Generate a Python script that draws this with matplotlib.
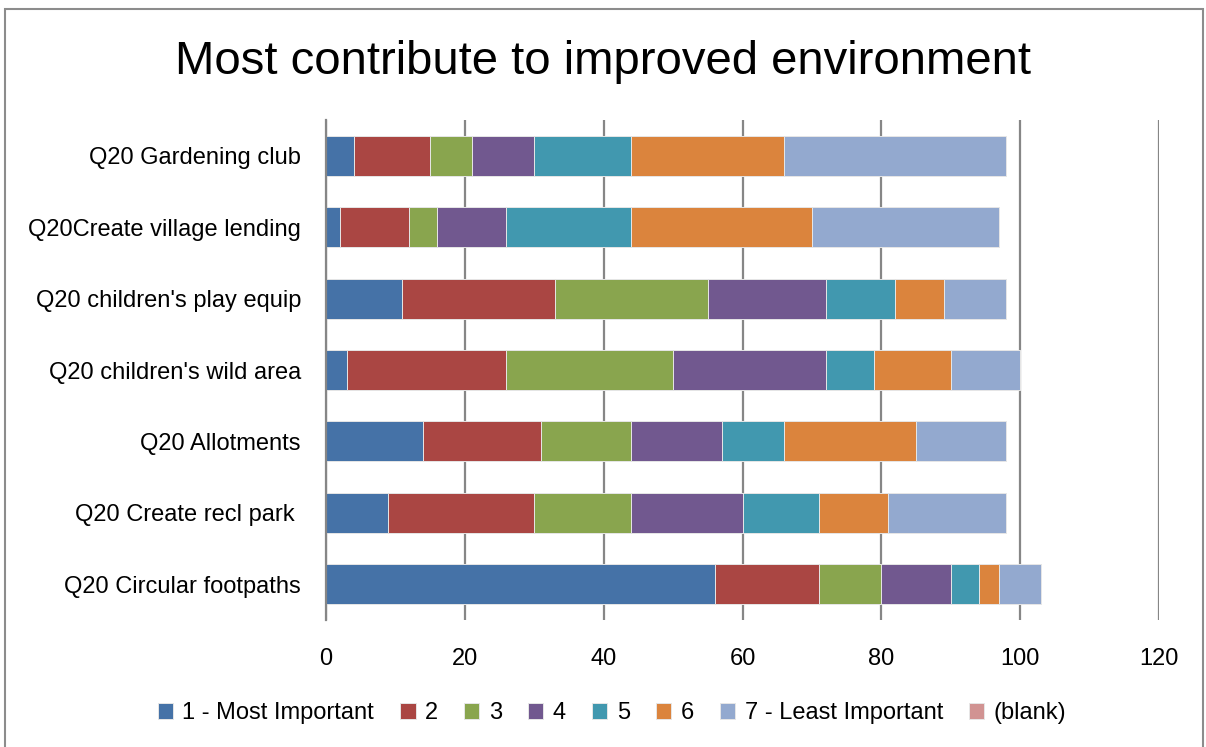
import matplotlib.pyplot as plt
from matplotlib.patches import Rectangle

plt.rcParams['font.family'] = ['Liberation Sans', 'DejaVu Sans']

# categories, top to bottom as in the chart
categories = ["Q20 Gardening club", "Q20Create village lending", "Q20 children's play equip",
              "Q20 children's wild area", "Q20 Allotments", "Q20 Create recl park ",
              "Q20 Circular footpaths"]
series_names = ["1 - Most Important", "2", "3", "4", "5", "6", "7 - Least Important", "(blank)"]
rank1 = [4, 2, 11, 3, 14, 9, 56]
rank2 = [11, 10, 22, 23, 17, 21, 15]
rank3 = [6, 4, 22, 24, 13, 14, 9]
rank4 = [9, 10, 17, 22, 13, 16, 10]
rank5 = [14, 18, 10, 7, 9, 11, 4]
rank6 = [22, 26, 7, 11, 19, 10, 3]
rank7 = [32, 27, 9, 10, 13, 17, 6]
blank = [0, 0, 0, 0, 0, 0, 0]
colors = ['#4572A7', '#AA4643', '#89A54E', '#71588F', '#4198AF', '#DB843D', '#93A9CF', '#D19392']
xticks = [0, 20, 40, 60, 80, 100, 120]

series = [rank1, rank2, rank3, rank4, rank5, rank6, rank7, blank]

fig = plt.figure(figsize=(12.06, 7.47), dpi=100)
ax = fig.add_axes([326 / 1206, 1 - 620 / 747, (1159 - 326) / 1206, 500 / 747])

ypos = list(range(len(categories)))[::-1]
left = [0] * len(categories)
handles = []
for name, vals, col in zip(series_names, series, colors):
    b = ax.barh(ypos, vals, left=left, height=0.56, color=col, edgecolor='#e6e6e6',
                linewidth=0.7, label=name, zorder=3)
    handles.append(b)
    left = [l + v for l, v in zip(left, vals)]

ax.set_xlim(0, 120)
ax.set_ylim(-0.5, len(categories) - 0.5)
ax.set_xticks(xticks)
ax.set_xticklabels([str(t) for t in xticks])
ax.set_yticks(ypos)
ax.set_yticklabels(categories)
ax.tick_params(axis='both', length=0, labelsize=17)
ax.tick_params(axis='y', pad=18)
ax.tick_params(axis='x', pad=20)
ax.xaxis.grid(True, color='#868686', linewidth=1.6, zorder=0)
for s in ['top', 'right', 'bottom']:
    ax.spines[s].set_visible(False)
ax.spines['left'].set_color('#868686')
ax.spines['left'].set_linewidth(1.6)
ax.spines['left'].set_zorder(4)

fig.suptitle("Most contribute to improved environment", y=1 - 62 / 747, va='center',
             fontsize=34)

fig.legend(handles=handles, labels=series_names, loc='center',
           bbox_to_anchor=(0.5 + 9 / 1206, 1 - 713 / 747),
           ncol=8, frameon=False, fontsize=17, handlelength=0.65, handleheight=0.65,
           handletextpad=0.4, columnspacing=1.1)

fig.patches.append(Rectangle((5 / 1206, -0.01), 1198 / 1206, 1 - 9 / 747 + 0.01,
                             transform=fig.transFigure, fill=False, edgecolor='#8c8c8c',
                             linewidth=1.5))

fig.savefig('out.png', dpi=100)
